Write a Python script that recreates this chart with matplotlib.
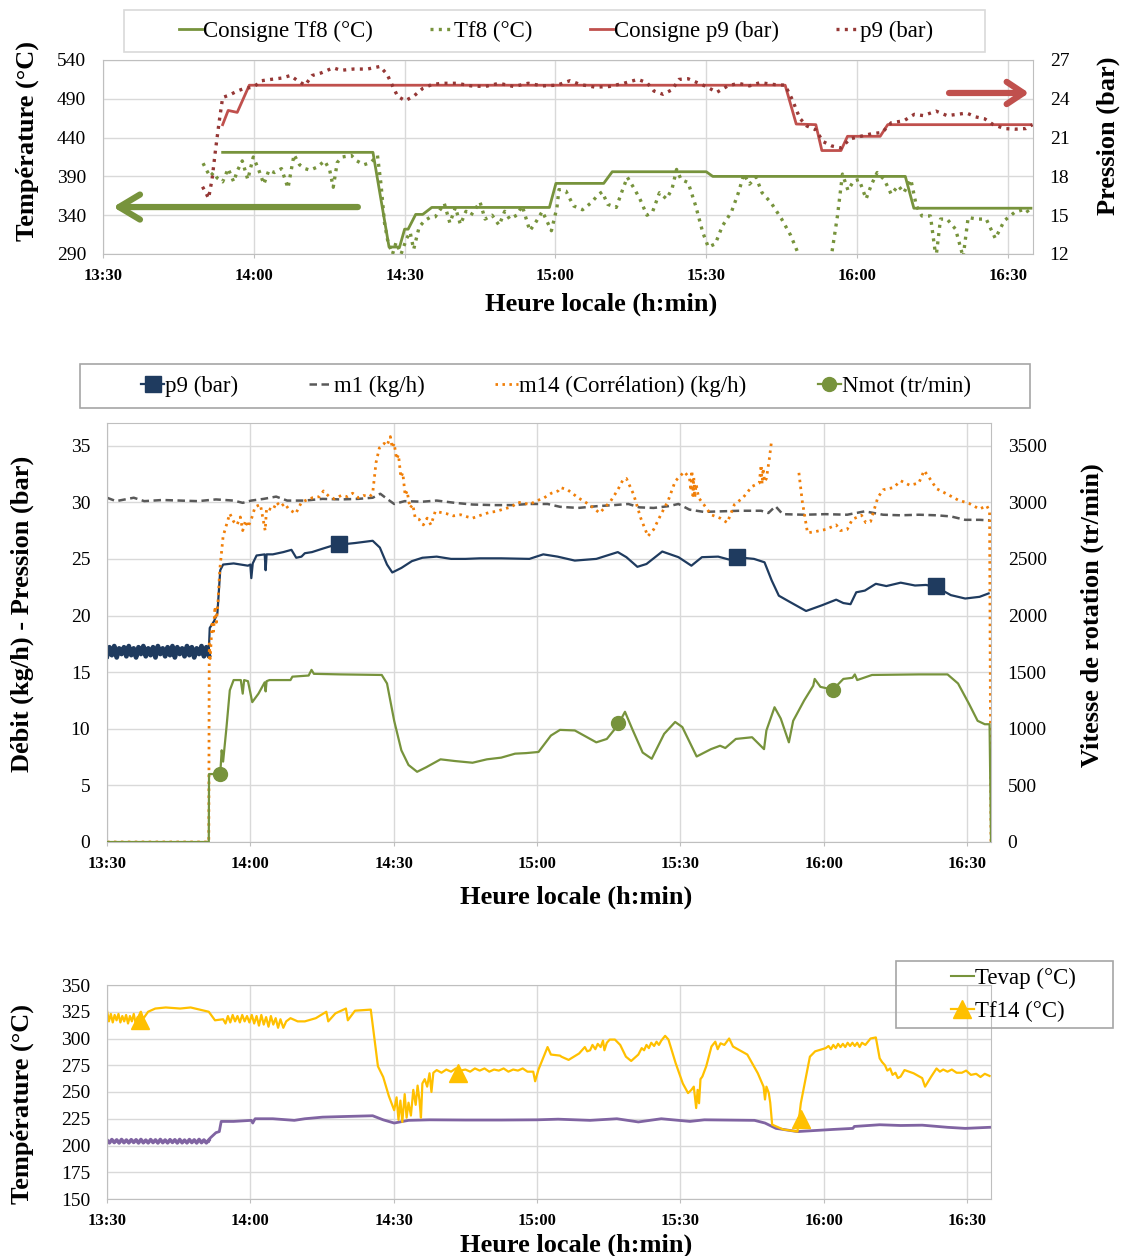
import numpy as np
import matplotlib
matplotlib.use("Agg")
import matplotlib.pyplot as plt
from matplotlib.lines import Line2D
from matplotlib.patches import Rectangle

plt.rcParams['font.family'] = ['Liberation Serif', 'DejaVu Serif']

# ---------------- data (time in minutes after 13:30) ----------------
time_ticks = [0, 30, 60, 90, 120, 150, 180]
time_labels = ['13:30', '14:00', '14:30', '15:00', '15:30', '16:00', '16:30']

# top chart
cons_tf8 = [(23.8, 421), (53.7, 421), (56.9, 299), (59.0, 299), (60.0, 322), (60.7, 322),
            (62.2, 341), (63.6, 341), (65.4, 350), (88.8, 350), (90.1, 381), (99.6, 381),
            (101.3, 396), (120.0, 396), (121.3, 390), (159.6, 390), (161.3, 349), (184.6, 349)]
tf8 = [(19.9, 407), (20.6, 398), (21.3, 390), (22.0, 395), (22.7, 388), (23.8, 383), (24.9, 400),
       (26.0, 383), (26.7, 397), (27.7, 410), (28.8, 386), (29.9, 415), (31.0, 398), (32.0, 380),
       (33.0, 398), (34.1, 395), (35.5, 400), (36.8, 375), (38.0, 418), (39.1, 405), (40.2, 400),
       (41.2, 398), (42.6, 402), (44.1, 410), (45.1, 398), (45.8, 376), (46.6, 408), (47.6, 415),
       (49.4, 417), (50.5, 410), (51.9, 405), (53.3, 408), (54.6, 417), (55.3, 380), (56.0, 330),
       (56.7, 305), (57.6, 290), (58.3, 305), (59.3, 290), (60.4, 310), (61.1, 318), (61.8, 296),
       (62.9, 325), (64.0, 333), (65.0, 337), (66.1, 338), (67.9, 355), (69.0, 330), (70.1, 350),
       (71.1, 328), (72.2, 345), (73.2, 340), (75.0, 357), (76.0, 335), (77.4, 340), (78.8, 327),
       (79.9, 345), (80.9, 335), (82.3, 340), (83.4, 352), (84.9, 320), (86.0, 330), (87.4, 345),
       (89.2, 320), (90.3, 350), (90.7, 373), (92.1, 371), (93.6, 352), (95.4, 347), (97.1, 356),
       (98.6, 367), (99.3, 370), (100.4, 354), (102.1, 350), (103.2, 370), (104.3, 389), (105.7, 374),
       (106.8, 361), (108.2, 340), (109.3, 344), (110.7, 369), (112.1, 361), (113.2, 374), (114.1, 399),
       (115.0, 386), (116.4, 382), (117.9, 352), (119.3, 318), (120.4, 299), (121.8, 303), (123.2, 326),
       (125.0, 344), (126.4, 369), (127.5, 393), (128.6, 380), (129.9, 389), (131.1, 369), (132.9, 356),
       (135.0, 335), (136.8, 314), (138.2, 292), (140.0, 255), (143.5, 255), (145.0, 292), (146.1, 339),
       (147.1, 393), (148.2, 372), (149.3, 384), (150.4, 386), (151.8, 361), (152.9, 380), (154.0, 395),
       (155.4, 386), (156.8, 367), (158.2, 378), (159.3, 369), (160.7, 386), (161.8, 352), (162.9, 339),
       (164.6, 339), (165.7, 285), (166.6, 335), (167.9, 335), (169.6, 322), (171.1, 286), (172.1, 337),
       (173.9, 335), (175.7, 335), (177.5, 310), (179.3, 333), (181.4, 344), (183.6, 348), (184.6, 339)]
cons_p9 = [(23.8, 22.0), (24.9, 23.1), (26.7, 22.95), (29.1, 25.05), (135.7, 25.05), (137.9, 22.05),
           (141.8, 22.0), (143.0, 20.0), (146.8, 20.0), (148.1, 21.1), (154.6, 21.1), (156.1, 22.0),
           (184.6, 22.0)]
p9_top = [(19.8, 17.2), (20.5, 16.7), (21.0, 16.3), (21.7, 17.8), (22.4, 20.1), (23.1, 22.2), (23.8, 24.1),
          (25.2, 24.3), (26.7, 24.6), (28.1, 24.8), (29.9, 24.9), (31.6, 25.4), (33.4, 25.5), (35.5, 25.6),
          (37.3, 25.8), (38.7, 25.4), (40.2, 25.05), (41.6, 25.8), (43.4, 26.0), (45.8, 26.4), (47.3, 26.2),
          (49.8, 26.3), (52.6, 26.3), (55.1, 26.5), (56.5, 25.9), (57.6, 25.0), (58.6, 24.2), (60.1, 23.85),
          (61.8, 24.2), (63.6, 24.8), (65.4, 25.1), (67.5, 25.2), (70.4, 25.2), (73.2, 25.0), (76.0, 24.95),
          (78.8, 25.2), (81.7, 24.95), (84.6, 25.2), (87.4, 25.0), (90.3, 25.05), (92.9, 25.4), (95.0, 25.1),
          (97.9, 24.9), (100.7, 24.95), (103.6, 25.2), (106.4, 25.5), (108.2, 25.25), (109.6, 24.6),
          (111.4, 24.35), (113.2, 24.7), (114.6, 25.5), (116.4, 25.55), (118.2, 25.25), (120.0, 24.95),
          (122.1, 24.5), (124.3, 25.0), (126.4, 25.2), (128.6, 25.0), (130.7, 25.25), (133.6, 25.1),
          (135.7, 25.05), (137.1, 23.95), (138.6, 22.5), (140.0, 21.9), (141.8, 21.6), (143.2, 20.7),
          (145.0, 20.35), (146.8, 20.2), (148.6, 20.9), (150.7, 21.1), (152.9, 21.3), (155.0, 21.4),
          (156.8, 22.15), (159.3, 22.3), (161.4, 22.8), (163.2, 22.7), (165.7, 23.05), (167.9, 22.7),
          (170.0, 22.8), (171.8, 22.9), (173.6, 22.6), (175.4, 22.45), (177.1, 22.0), (179.3, 21.7),
          (181.4, 21.65), (183.6, 21.7), (184.9, 22.0)]

# middle chart
p9_band = [16.4, 17.2, 16.5, 17.3, 16.3, 17.1, 16.6, 17.2, 16.4, 17.3, 16.5, 17.1, 16.3, 17.2, 16.6,
           17.3, 16.4, 17.1, 16.5, 17.2, 16.3, 17.3, 16.6, 17.1, 16.4, 17.2, 16.5, 17.3, 16.3, 17.2,
           16.6, 17.1, 16.4, 17.3, 16.5, 17.2, 16.3, 17.1, 16.6, 17.3, 16.4, 17.2, 16.5]
p9_mid = [(21.3, 16.8), (21.5, 18.9), (22.4, 19.5), (23.1, 20.2), (23.7, 24.0), (24.3, 24.5), (26.5, 24.6),
          (29.5, 24.4), (30.0, 24.5), (30.2, 23.3), (30.5, 24.6), (31.3, 25.3), (33.0, 25.4), (33.2, 24.0),
          (33.4, 25.4), (34.7, 25.4), (36.9, 25.6), (38.6, 25.8), (39.6, 25.1), (40.7, 25.2), (41.4, 25.5),
          (42.9, 25.6), (45.1, 25.9), (47.4, 26.2), (49.6, 26.3), (51.9, 26.4), (55.6, 26.6), (57.1, 26.0),
          (58.6, 24.5), (59.7, 23.8), (61.6, 24.2), (63.8, 24.8), (66.0, 25.1), (69.0, 25.2), (72.0, 25.0),
          (75.0, 25.0), (78.0, 25.05), (82.5, 25.05), (88.4, 25.0), (91.3, 25.4), (94.3, 25.2), (97.9, 24.85),
          (102.4, 25.0), (106.9, 25.6), (108.7, 25.15), (111.0, 24.3), (112.9, 24.55), (116.2, 25.65),
          (119.6, 25.15), (122.3, 24.4), (124.5, 25.15), (127.9, 25.2), (130.1, 24.95), (131.8, 25.15),
          (135.4, 25.0), (137.6, 24.7), (139.1, 23.1), (140.6, 21.75), (142.9, 21.2), (146.3, 20.4),
          (149.6, 20.9), (152.6, 21.4), (154.1, 21.1), (155.6, 21.0), (156.8, 22.05), (158.6, 22.2),
          (160.9, 22.8), (163.1, 22.6), (166.1, 22.9), (169.1, 22.65), (171.4, 22.7), (173.6, 22.5),
          (176.6, 21.8), (179.6, 21.5), (182.6, 21.65), (184.5, 21.95)]
p9_marks = [(48.6, 26.3), (131.8, 25.15), (173.5, 22.6)]
m1 = [(0, 30.4), (1.9, 30.1), (5.6, 30.4), (7.8, 30.1), (11.6, 30.2), (15.3, 30.15), (19.0, 30.1),
      (22.8, 30.25), (26.5, 30.15), (28.4, 29.95), (30.2, 30.15), (32.8, 30.3), (35.4, 30.5), (37.7, 30.15),
      (41.4, 30.15), (45.1, 30.3), (48.9, 30.25), (52.6, 30.3), (55.6, 30.4), (57.2, 30.75), (58.6, 30.3),
      (60.1, 29.85), (62.3, 30.1), (66.0, 30.05), (69.0, 30.15), (72.8, 29.95), (76.5, 29.8), (81.0, 29.75),
      (84.7, 29.75), (88.4, 29.85), (92.2, 29.85), (94.8, 29.6), (98.6, 29.5), (102.4, 29.65),
      (106.1, 29.75), (109.1, 29.85), (111.4, 29.55), (114.4, 29.5), (117.4, 29.65), (119.6, 29.85),
      (121.9, 29.35), (124.9, 29.15), (128.6, 29.2), (132.4, 29.25), (136.9, 29.25), (138.4, 29.05),
      (139.9, 29.65), (141.4, 28.95), (145.9, 28.9), (150.4, 28.95), (154.9, 28.9), (158.6, 29.2),
      (162.4, 28.9), (166.1, 28.85), (169.9, 28.9), (173.6, 28.85), (176.6, 28.75), (179.6, 28.45),
      (182.6, 28.45), (184.7, 28.4)]
m14 = [(0, 0), (21.3, 0), (21.4, 17.5), (21.6, 16.2), (22.0, 19.5), (22.3, 18.6), (22.6, 20.8), (22.9, 19.4),
       (23.2, 21.0), (23.6, 24.0), (24.3, 27.0), (25.7, 29.0), (26.5, 28.3), (27.2, 28.0), (27.9, 28.7),
       (28.4, 27.5), (29.0, 28.4), (29.5, 27.8), (30.2, 28.5), (31.0, 29.6), (32.1, 29.8), (33.1, 27.5),
       (33.4, 29.5), (34.7, 29.3), (35.5, 30.0), (36.3, 29.6), (37.2, 29.9), (38.0, 29.4), (39.5, 29.0),
       (40.7, 30.0), (41.8, 30.2), (43.0, 30.4), (44.5, 30.5), (45.3, 31.0), (46.5, 30.5), (47.6, 30.3),
       (49.0, 30.6), (50.3, 30.5), (51.4, 30.8), (52.6, 30.4), (53.7, 30.6), (55.0, 30.5), (55.6, 30.8),
       (56.3, 33.5), (57.0, 34.8), (58.0, 35.2), (58.6, 35.0), (59.3, 35.8), (59.7, 34.8), (60.1, 35.2),
       (60.6, 33.8), (61.0, 34.2), (61.5, 32.2), (61.9, 32.6), (62.4, 30.6), (62.8, 31.0), (63.4, 29.5),
       (64.0, 29.8), (64.5, 28.6), (65.3, 28.5), (66.2, 28.0), (67.0, 28.6), (67.8, 28.0), (68.7, 29.2),
       (69.8, 29.1), (71.0, 29.0), (72.5, 28.8), (74.0, 28.9), (75.5, 28.7), (76.5, 28.6), (78.5, 28.9),
       (80.0, 29.1), (81.5, 29.2), (83.0, 29.4), (84.7, 29.6), (86.0, 30.0), (87.5, 29.9), (88.4, 29.8),
       (89.8, 30.1), (91.5, 30.4), (93.0, 30.8), (94.4, 31.0), (94.9, 31.3), (96.4, 31.1), (98.6, 30.4),
       (100.9, 29.8), (103.1, 29.05), (105.4, 30.1), (106.9, 31.1), (108.0, 32.0), (108.7, 32.1),
       (110.2, 30.7), (111.7, 28.6), (113.2, 27.0), (114.4, 27.6), (115.9, 28.9), (117.4, 30.1),
       (118.9, 31.85), (120.8, 32.7), (121.9, 32.15), (122.2, 31.0), (122.4, 32.8), (122.6, 30.6),
       (122.8, 32.2), (123.0, 30.4), (123.3, 31.6), (123.8, 30.4), (124.9, 29.8), (126.4, 28.9),
       (128.3, 28.6), (129.8, 28.2), (131.3, 29.8), (133.1, 30.4), (135.0, 31.4), (136.5, 31.7),
       (136.9, 33.3), (137.1, 31.6), (137.3, 33.0), (137.6, 31.8), (138.0, 32.1), (138.6, 33.8),
       (139.1, 35.5), (139.2, np.nan), (144.8, 32.6), (145.5, 30.1), (146.6, 27.3), (148.1, 27.4),
       (150.4, 27.6), (152.6, 28.0), (153.5, 27.5), (154.9, 27.6), (156.0, 28.5), (157.9, 28.85),
       (158.8, 28.2), (159.8, 28.3), (161.3, 30.4), (162.4, 31.1), (164.6, 31.3), (166.1, 31.9),
       (168.0, 31.5), (169.9, 31.7), (171.0, 32.8), (172.1, 32.15), (173.6, 31.2), (175.9, 30.7),
       (178.1, 30.2), (180.4, 29.9), (182.6, 29.4), (184.1, 29.7), (184.7, 29.2), (185.0, 0)]
nmot = [(0, 0), (21.3, 0), (21.35, 600), (23.7, 600), (24.0, 810), (24.3, 710), (25.0, 1010), (25.7, 1340),
        (26.5, 1430), (28.0, 1430), (28.4, 1310), (28.7, 1430), (29.5, 1420), (30.4, 1235), (31.7, 1310),
        (33.0, 1410), (33.2, 1330), (33.4, 1420), (34.0, 1430), (38.4, 1430), (38.8, 1460), (42.2, 1470),
        (42.8, 1520), (43.3, 1485), (48.9, 1480), (57.5, 1475), (58.6, 1400), (60.1, 1070), (61.6, 810),
        (63.1, 680), (64.9, 620), (66.8, 660), (69.8, 730), (72.8, 715), (76.5, 700), (79.5, 730),
        (82.5, 745), (85.4, 780), (87.7, 785), (90.3, 795), (92.9, 940), (94.8, 990), (97.9, 985),
        (102.4, 880), (104.6, 910), (106.9, 1030), (108.4, 1150), (109.9, 1000), (112.1, 790),
        (114.0, 735), (116.6, 955), (118.9, 1060), (120.4, 1015), (123.4, 755), (126.4, 820),
        (128.3, 850), (129.4, 830), (131.6, 910), (135.0, 925), (137.5, 820), (138.0, 985), (139.7, 1190),
        (141.0, 1090), (142.7, 880), (143.6, 1070), (145.9, 1250), (147.8, 1380), (148.1, 1440),
        (149.3, 1370), (151.9, 1345), (154.1, 1440), (156.0, 1450), (156.5, 1480), (157.0, 1430),
        (160.1, 1475), (169.9, 1480), (175.9, 1480), (178.1, 1400), (180.4, 1220), (182.2, 1070),
        (183.7, 1040), (184.7, 1040), (185.0, 0)]
nmot_marks = [(23.7, 600), (106.9, 1053), (151.9, 1342)]

# bottom chart
tevap_band = [205.0, 202.5, 205.5, 202.8, 205.2, 202.4, 205.6, 202.7, 205.1, 202.5, 205.4, 202.9, 205.3,
              202.4, 205.6, 202.6, 205.0, 202.5, 205.5, 202.8, 205.2, 202.4, 205.6, 202.7, 205.1, 202.5,
              205.4, 202.9, 205.3, 202.4, 205.6, 202.6, 205.0, 202.5, 205.5, 202.8, 205.2, 202.4, 205.6,
              202.7, 205.1, 202.5, 205.0]
tevap = [(21.3, 204), (21.6, 207), (22.8, 212), (23.5, 213), (23.9, 222.5), (26.5, 222.5), (30.2, 223.5),
         (30.5, 221), (30.8, 223.5), (31.0, 225), (34.7, 225), (39.2, 223.5), (41.4, 225), (45.1, 226.5),
         (48.9, 227), (55.6, 227.8), (57.8, 224), (60.1, 221), (63.1, 223.5), (67.5, 224), (75.0, 223.8),
         (82.5, 223.8), (90.0, 224), (94.4, 224.6), (101.1, 223.5), (106.7, 225), (111.2, 222), (116.0, 225),
         (122.0, 222.5), (125.0, 224), (135.5, 223.5), (137.7, 221), (140.0, 216), (144.5, 213),
         (147.4, 213.8), (151.9, 215), (156.1, 216), (156.4, 217.8), (161.7, 219.4), (166.1, 218.7),
         (170.6, 219), (175.9, 217), (179.6, 216), (184.7, 217)]
tf14 = [(0, 326), (0.4, 316), (0.8, 323), (1.2, 315), (1.6, 322), (2.0, 317), (2.4, 323), (2.8, 315),
        (3.2, 321), (3.6, 316), (4.0, 322), (4.4, 314), (4.8, 321), (5.2, 316), (5.6, 323), (6.0, 314),
        (6.4, 320), (6.8, 316), (7.1, 325), (7.5, 318), (8.6, 325), (10.1, 328), (12.3, 329), (15.3, 328),
        (17.5, 329), (21.3, 325), (22.6, 317), (24.3, 318), (24.8, 314), (25.3, 321), (25.8, 315),
        (26.3, 322), (26.8, 316), (27.3, 321), (27.8, 315), (28.3, 322), (28.8, 316), (29.3, 321),
        (29.8, 315), (30.3, 322), (30.8, 314), (31.3, 321), (31.8, 312), (32.3, 322), (32.8, 313),
        (33.3, 320), (33.8, 311), (34.3, 321), (34.8, 313), (35.3, 319), (35.8, 310), (36.3, 318),
        (36.9, 310), (37.5, 316), (38.4, 319), (39.9, 316), (41.4, 316), (43.7, 319), (45.9, 325),
        (46.3, 316), (47.8, 323.5), (50.0, 328), (50.4, 317), (51.9, 326), (55.2, 327), (56.0, 299),
        (56.7, 274), (57.8, 264), (59.0, 246), (60.1, 233), (60.6, 245), (61.0, 224), (61.4, 242),
        (61.8, 222), (62.3, 248), (62.7, 226), (63.1, 240), (63.6, 228), (64.1, 252), (64.6, 238),
        (65.0, 256), (65.4, 242), (65.7, 226), (66.0, 258), (66.5, 262), (67.0, 255), (67.5, 267.5),
        (67.9, 250), (68.3, 268), (69.0, 270.5), (70, 268), (71, 271), (72, 269), (73, 272), (74, 270),
        (75, 271), (76, 269), (77, 272), (78, 270), (79, 272), (80, 269), (81, 271), (82, 270), (83, 272),
        (84, 269), (85, 271), (86, 270), (87, 272), (88, 269), (89.2, 269), (89.6, 260), (90.3, 271),
        (92.2, 292), (92.9, 285), (94.8, 284), (95.1, 283), (96.6, 280), (98.8, 286), (100.0, 292),
        (100.5, 288), (101.1, 289), (101.6, 294), (102.2, 290), (102.7, 295), (103.3, 292), (103.8, 298),
        (104.1, 289), (104.6, 296), (105.2, 299), (106.3, 299), (107.4, 294), (108.6, 283), (109.7, 279),
        (111.2, 285), (111.9, 291), (112.4, 289), (112.9, 294), (113.4, 291), (113.9, 296), (114.5, 293),
        (115.0, 297), (115.5, 294), (116.0, 298), (116.8, 302.5), (117.5, 299), (119.0, 277),
        (120.5, 258), (121.6, 249), (122.3, 252), (122.8, 255), (123.3, 235), (123.6, 252),
        (123.9, 239.5), (124.2, 262), (124.6, 264.5), (125.4, 274), (126.5, 292.5), (127.3, 297),
        (127.8, 290), (128.4, 295.5), (129.2, 294), (130.2, 300), (131.0, 292.5), (134.0, 285),
        (136.2, 267.5), (137.4, 255), (137.7, 243), (138.0, 255), (138.5, 249), (138.8, 240),
        (139.2, 219.5), (141.5, 215), (144.5, 213), (145.2, 239.5), (146.0, 258), (147.1, 283),
        (148.2, 288), (150.4, 291), (151.0, 293), (151.5, 290), (152.0, 294), (152.5, 291), (153.0, 295),
        (153.5, 292), (154.0, 295), (154.5, 292), (155.0, 296), (155.5, 293), (156.0, 296), (156.5, 293),
        (157.0, 296), (157.5, 292), (158.0, 296), (158.7, 294), (159.8, 300), (160.9, 301),
        (161.7, 281.5), (162.2, 278), (162.8, 275), (163.3, 270), (163.9, 272), (164.4, 266), (165.0, 268),
        (165.5, 263), (166.1, 264.5), (166.9, 270.5), (168.8, 267.5), (170.6, 263), (171.2, 255),
        (172.5, 264.5), (173.6, 272), (174.3, 269), (175.0, 271), (175.9, 269), (176.8, 271),
        (177.8, 268), (178.9, 268), (179.8, 270), (180.8, 266), (181.9, 267), (182.8, 264),
        (183.7, 267), (184.7, 265)]
tf14_marks = [(6.9, 317), (73.5, 268), (145.2, 225)]

# ---------------- figure ----------------
W, H = 1123, 1256
fig = plt.figure(figsize=(W / 100, H / 100), dpi=100)

GREEN = '#77933c'
RED = '#c0504d'
DRED = '#953735'
NAVY = '#1f3b5f'
GREY = '#595959'
ORANGE = '#f07f09'
YELLOW = '#ffc000'
PURPLE = '#8064a2'
DOT = (0, (0.9, 1.6))


def box(l, t, r, b):
    return [l / W, 1 - b / H, (r - l) / W, (b - t) / H]


def xy(pairs):
    a = np.array(pairs, dtype=float)
    return a[:, 0], a[:, 1]


def style(ax, ylim, yticks):
    ax.set_xlim(0, 185)
    ax.set_ylim(*ylim)
    ax.set_xticks(time_ticks)
    ax.set_xticklabels(time_labels, fontweight='bold', fontsize=12)
    ax.set_yticks(yticks)
    ax.tick_params(axis='y', labelsize=14, length=0, pad=12)
    ax.tick_params(axis='x', length=3, color='#bfbfbf', pad=7)
    ax.grid(color='#d9d9d9', lw=1)
    ax.set_axisbelow(True)
    for s in ax.spines.values():
        s.set_color('#bfbfbf')


def twin_style(axr, ylim, yticks):
    axr.set_ylim(*ylim)
    axr.set_yticks(yticks)
    axr.tick_params(axis='y', labelsize=14, length=0, pad=12)
    for s in axr.spines.values():
        s.set_visible(False)


def frame(l, t, r, b, color):
    fig.add_artist(Rectangle((l / W, 1 - b / H), (r - l) / W, (b - t) / H,
                             transform=fig.transFigure, fill=False, ec=color, lw=1.2))


# ---- top chart
ax1 = fig.add_axes(box(103, 60, 1033, 254))
style(ax1, (290, 540), [290, 340, 390, 440, 490, 540])
t, v = xy(cons_tf8)
ax1.plot(t, v, color=GREEN, lw=2)
t, v = xy(tf8)
ax1.plot(t, v, color=GREEN, lw=2.4, ls=DOT)
ax1r = ax1.twinx()
twin_style(ax1r, (12, 27), [12, 15, 18, 21, 24, 27])
t, v = xy(cons_p9)
ax1r.plot(t, v, color=RED, lw=2)
t, v = xy(p9_top)
ax1r.plot(t, v, color=DRED, lw=2.4, ls=DOT)
ax1r.annotate('', xy=(2, 15.63), xytext=(50.7, 15.63),
              arrowprops=dict(arrowstyle='->,head_length=0.75,head_width=0.45', lw=4.5,
                              color=GREEN, mutation_scale=20, shrinkA=0, shrinkB=0))
ax1r.annotate('', xy=(184.2, 24.45), xytext=(168.3, 24.45),
              arrowprops=dict(arrowstyle='->,head_length=0.6,head_width=0.4', lw=4.5,
                              color=RED, mutation_scale=20, shrinkA=0, shrinkB=0))

frame(124, 10, 985, 52, '#d9d9d9')
h_top = [Line2D([], [], color=GREEN, lw=2), Line2D([], [], color=GREEN, lw=2.4, ls=DOT),
         Line2D([], [], color=RED, lw=2), Line2D([], [], color=DRED, lw=2.4, ls=DOT)]
fig.legend(h_top, ['Consigne Tf8 (°C)', 'Tf8 (°C)', 'Consigne p9 (bar)', 'p9 (bar)'],
           loc='center', bbox_to_anchor=(556 / W, 1 - 31 / H), ncol=4, frameon=False,
           fontsize=16.5, handlelength=1.0, handletextpad=0.05, columnspacing=2.5)

# ---- middle chart
ax2 = fig.add_axes(box(107, 423, 991, 842))
style(ax2, (0, 37), [0, 5, 10, 15, 20, 25, 30, 35])
ax2.plot(np.linspace(0, 21.3, len(p9_band)), p9_band, color=NAVY, lw=3.4)
t, v = xy(p9_mid)
ax2.plot(t, v, color=NAVY, lw=1.6)
t, v = xy(p9_marks)
ax2.plot(t, v, 's', color=NAVY, ms=11)
t, v = xy(m1)
ax2.plot(t, v, color=GREY, lw=1.8, ls=(0, (3, 1.8)))
t, v = xy(m14)
ax2.plot(t, v, color=ORANGE, lw=2.0, ls=DOT)
ax2r = ax2.twinx()
twin_style(ax2r, (0, 3700), [0, 500, 1000, 1500, 2000, 2500, 3000, 3500])
t, v = xy(nmot)
ax2r.plot(t, v, color=GREEN, lw=1.6)
t, v = xy(nmot_marks)
ax2r.plot(t, v, 'o', color=GREEN, ms=10)

frame(80, 364, 1030, 408, '#a6a6a6')
h_mid = [Line2D([], [], color=NAVY, lw=1.6, marker='s', ms=11),
         Line2D([], [], color=GREY, lw=1.8, ls=(0, (3, 1.8))),
         Line2D([], [], color=ORANGE, lw=2.0, ls=DOT),
         Line2D([], [], color=GREEN, lw=1.6, marker='o', ms=10)]
fig.legend(h_mid, ['p9 (bar)', 'm1 (kg/h)', 'm14 (Corrélation) (kg/h)', 'Nmot (tr/min)'],
           loc='center', bbox_to_anchor=(556 / W, 1 - 386 / H), ncol=4, frameon=False,
           fontsize=16.5, handlelength=1.0, handletextpad=0.05, columnspacing=3.1)

# ---- bottom chart
ax3 = fig.add_axes(box(107, 985, 991, 1199))
style(ax3, (150, 350), [150, 175, 200, 225, 250, 275, 300, 325, 350])
ax3.plot(np.linspace(0, 21.3, len(tevap_band)), tevap_band, color=PURPLE, lw=2.6)
t, v = xy(tevap)
ax3.plot(t, v, color=PURPLE, lw=2)
t, v = xy(tf14)
ax3.plot(t, v, color=YELLOW, lw=1.6)
t, v = xy(tf14_marks)
ax3.plot(t, v, '^', color=YELLOW, ms=13)

frame(896, 961, 1113, 1028, '#a6a6a6')
h_bot = [Line2D([], [], color=GREEN, lw=1.5),
         Line2D([], [], color=YELLOW, lw=1.6, marker='^', ms=13)]
fig.legend(h_bot, ['Tevap (°C)', 'Tf14 (°C)'], loc='center left',
           bbox_to_anchor=(930 / W, 1 - 995 / H), ncol=1, frameon=False,
           fontsize=16.5, handlelength=1.0, handletextpad=0.05, labelspacing=0.55)

# ---- axis titles
lab = dict(fontsize=19, fontweight='bold', ha='center', va='center')
fig.text(601 / W, 1 - 304 / H, 'Heure locale (h:min)', **lab)
fig.text(27 / W, 1 - 141 / H, 'Température (°C)', rotation=90, **lab)
fig.text(1108 / W, 1 - 136 / H, 'Pression (bar)', rotation=90, **lab)
fig.text(576 / W, 1 - 897 / H, 'Heure locale (h:min)', **lab)
fig.text(22 / W, 1 - 614 / H, 'Débit (kg/h) - Pression (bar)', rotation=90, **lab)
fig.text(1092 / W, 1 - 615 / H, 'Vitesse de rotation (tr/min)', rotation=90, **lab)
fig.text(22 / W, 1 - 1104 / H, 'Température (°C)', rotation=90, **lab)
fig.text(576 / W, 1 - 1245 / H, 'Heure locale (h:min)', **lab)

fig.savefig('out.png', dpi=100)
